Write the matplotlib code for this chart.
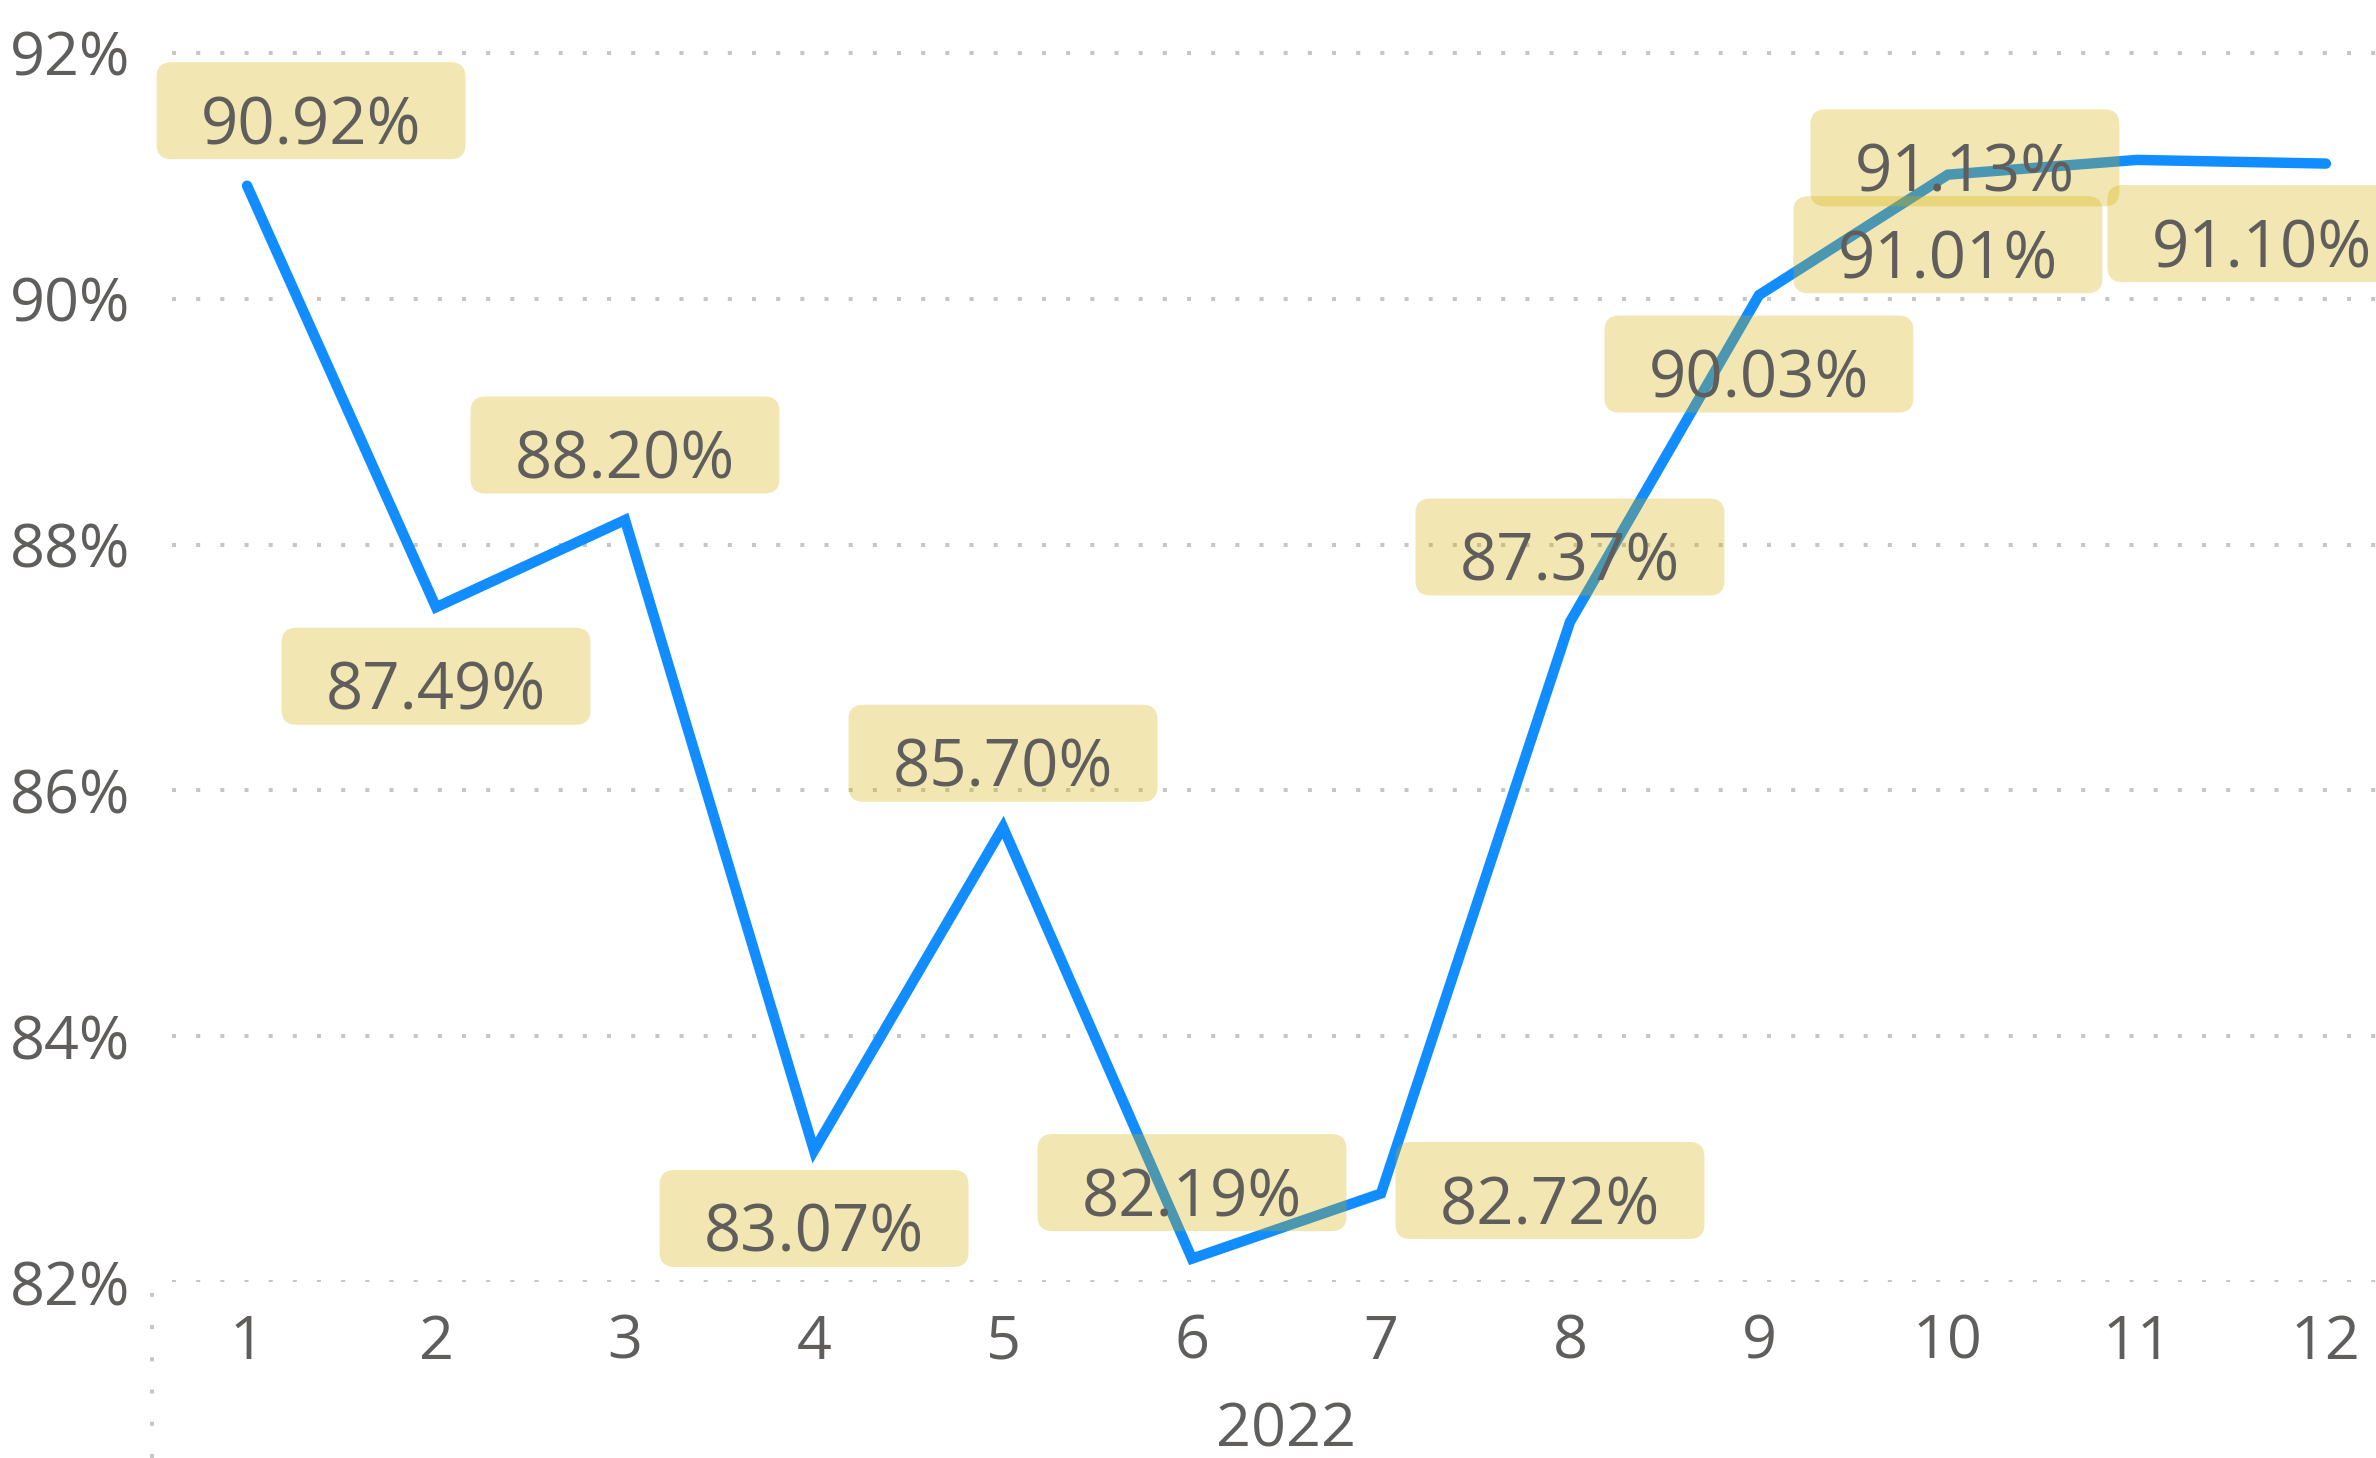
import numpy as np
import matplotlib
matplotlib.use("Agg")
import matplotlib.pyplot as plt
from matplotlib.patches import FancyBboxPatch
from matplotlib.lines import Line2D
from matplotlib.transforms import ScaledTranslation

# data
months = [1, 2, 3, 4, 5, 6, 7, 8, 9, 10, 11, 12]
rate = [90.92, 87.49, 88.20, 83.07, 85.70, 82.19, 82.72, 87.37, 90.03, 91.01, 91.13, 91.10]
year_label = "2022"
y_ticks = [82, 84, 86, 88, 90, 92]

# where each data label sits relative to its point, pixels (right, down)
label_shift = [(64, -75), (0, 69), (0, -75), (0, 68), (0, -74), (0, -76),
               (169, -3), (0, -75), (0, 69), (0, 70), (-172, -2), (-64, 70)]

_LINE = "#118DFF"
_TEXT = "#605E5C"
_GRID = "#C8C6C4"
_BOX = "#D4AF00"

plt.rcParams["font.family"] = ["Open Sans", "DejaVu Sans"]

W, H, DPI = 2376, 1458, 100
fig = plt.figure(figsize=(W / DPI, H / DPI), dpi=DPI, facecolor="white")
left, bottom = 152 / W, 1 - 1282 / H
ax = fig.add_axes([left, bottom, 1 - left, 1 - bottom])
ax.set_facecolor("white")

ax.set_xlim(0.497, 12.265)
ax.set_ylim(82, 92.431)

for s in ax.spines.values():
    s.set_visible(False)

for t in y_ticks:
    ax.axhline(t, xmin=0.009, xmax=1, color=_GRID, lw=2.9,
               linestyle=(0, (1, 5)), zorder=1)

ax.plot(months, rate, color=_LINE, lw=7.5, solid_capstyle="round",
        solid_joinstyle="miter", zorder=2)

ax.set_xticks(months)
ax.set_xticklabels([str(m) for m in months])
ax.set_yticks(y_ticks)
ax.set_yticklabels([f"{t}%" for t in y_ticks])
ax.tick_params(axis="x", length=0, pad=22, labelsize=44, labelcolor=_TEXT)
ax.tick_params(axis="y", length=0, pad=16, labelsize=44, labelcolor=_TEXT)

ax.annotate(year_label, xy=(np.mean(months), 0),
            xycoords=("data", "axes fraction"),
            xytext=(0, -107), textcoords="offset points",
            ha="center", va="center", fontsize=44, color=_TEXT)

# dotted separator under the y axis
fig.add_artist(Line2D([left, left], [0, bottom - 5 / H], transform=fig.transFigure,
                      color=_GRID, lw=2.9, linestyle=(0, (1, 7))))

# data labels: fixed-size translucent boxes
bw, bh = 3.09, 0.97
for m, v, (dx, dy) in zip(months, rate, label_shift):
    tr = (fig.dpi_scale_trans
          + ScaledTranslation(m, v, ax.transData)
          + ScaledTranslation(dx / DPI, -dy / DPI, fig.dpi_scale_trans))
    box = FancyBboxPatch((-bw / 2, -bh / 2), bw, bh,
                         boxstyle="round,pad=0,rounding_size=0.15",
                         facecolor=_BOX, edgecolor="none", alpha=0.3,
                         transform=tr, clip_on=False, zorder=3)
    ax.add_patch(box)
    ax.text(0, -0.335, f"{v:.2f}%", transform=tr, ha="center", va="baseline",
            fontsize=47, color=_TEXT, clip_on=False, zorder=4)

fig.savefig("out.png", dpi=DPI, facecolor="white")
